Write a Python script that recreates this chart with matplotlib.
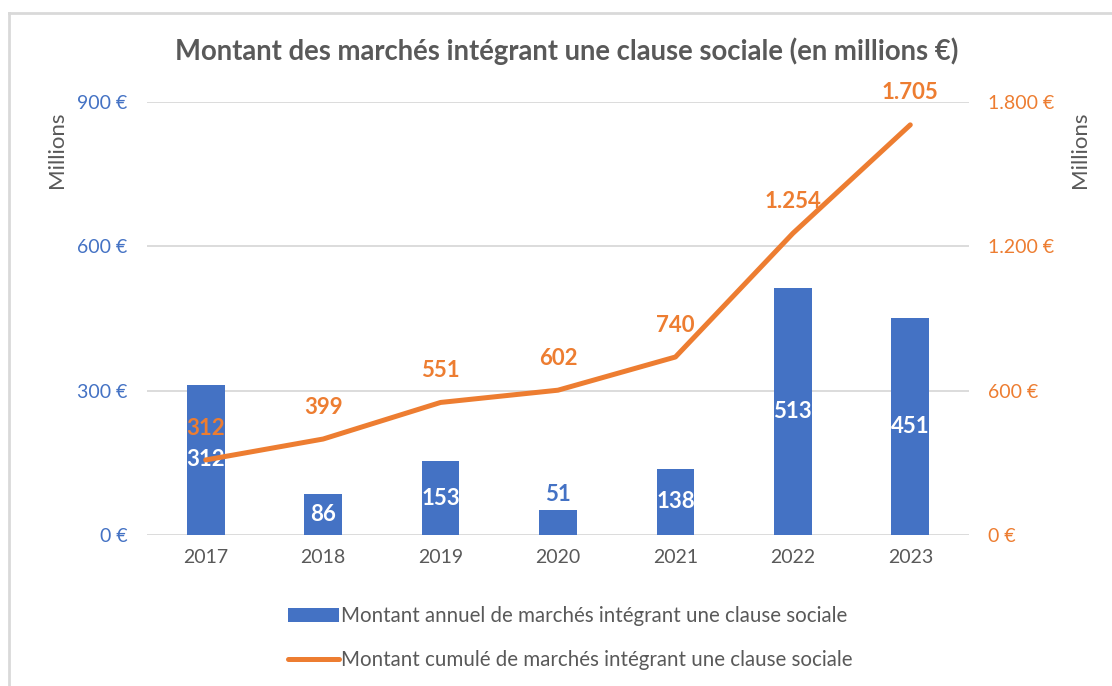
import numpy as np
import matplotlib.pyplot as plt
from matplotlib.lines import Line2D
from matplotlib.patches import Patch

# donnees
annees = ['2017', '2018', '2019', '2020', '2021', '2022', '2023']
annuel = [312, 86, 153, 51, 138, 513, 451]
cumule = [312, 399, 551, 602, 740, 1254, 1705]
ticks_g = [0, 300, 600, 900]
ticks_d = [0, 600, 1200, 1800]

BLEU = '#4472C4'
ORANGE = '#ED7D31'
GRIS = '#595959'
GRILLE = '#D9D9D9'

plt.rcParams['font.family'] = ['Lato', 'DejaVu Sans']

fig = plt.figure(figsize=(11.12, 6.86), dpi=100)
W, H = 1112, 686
ax = fig.add_axes([147 / W, 1 - 535 / H, 822 / W, 433 / H])
ax2 = ax.twinx()

x = np.arange(len(annees))
ax.bar(x, annuel, width=0.32, color=BLEU, zorder=2)
ax2.plot(x, cumule, color=ORANGE, lw=3.6, solid_capstyle='round', zorder=3)

ax.set_xlim(-0.5, len(annees) - 0.5)
ax.set_ylim(0, 900)
ax2.set_ylim(0, 1800)
ax.set_yticks(ticks_g)
ax.set_yticklabels([f'{v:,}'.replace(',', '.') + ' €' for v in ticks_g])
ax2.set_yticks(ticks_d)
ax2.set_yticklabels([f'{v:,}'.replace(',', '.') + ' €' for v in ticks_d])
ax.set_xticks(x)
ax.set_xticklabels(annees)

ax.grid(axis='y', color=GRILLE, lw=1.3, zorder=0)
for a in (ax, ax2):
    for s in a.spines.values():
        s.set_visible(False)
ax.set_zorder(1)
ax2.set_zorder(2)
ax.patch.set_visible(False)

ax.tick_params(axis='y', length=0, colors=BLEU, labelsize=14, pad=14)
ax2.tick_params(axis='y', length=0, colors=ORANGE, labelsize=14, pad=14)
ax.tick_params(axis='x', length=0, colors=GRIS, labelsize=14, pad=10)

# etiquettes des barres
for i, v in enumerate(annuel):
    if v < 80:
        ax.text(i, v + 12, str(v), ha='center', va='bottom', color=BLEU,
                fontsize=16, fontweight='bold', zorder=5)
    else:
        ax.text(i, v / 2, str(v), ha='center', va='center', color='white',
                fontsize=16, fontweight='bold', zorder=5)

# etiquettes de la courbe
for i, v in enumerate(cumule):
    ax2.annotate(f'{v:,}'.replace(',', '.'), (i, v), xytext=(0, 23),
                 textcoords='offset points', ha='center', va='center',
                 color=ORANGE, fontsize=16, fontweight='bold')

fig.text(567 / W, 1 - 51 / H, 'Montant des marchés intégrant une clause sociale (en millions €)',
         ha='center', va='center', color=GRIS, fontsize=19.8, fontweight='bold')
fig.text(57 / W, 1 - 150 / H, 'Millions', rotation=90, ha='center', va='center',
         color=GRIS, fontsize=16)
fig.text(1080 / W, 1 - 150 / H, 'Millions', rotation=90, ha='center', va='center',
         color=GRIS, fontsize=16)

poignees = [Patch(facecolor=BLEU),
            Line2D([0], [0], color=ORANGE, lw=3.6, solid_capstyle='round')]
noms = ['Montant annuel de marchés intégrant une clause sociale',
        'Montant cumulé de marchés intégrant une clause sociale']
fig.legend(poignees, noms, loc='center', bbox_to_anchor=(570 / W, 1 - 638 / H),
           frameon=False, fontsize=14.8, labelcolor=GRIS, handlelength=2.5,
           handletextpad=0.1, labelspacing=1.15)

# cadre
fig.add_artist(Line2D([9 / W, 9 / W], [0, 1 - 13 / H], color=GRILLE, lw=2,
                      transform=fig.transFigure))
fig.add_artist(Line2D([9 / W, 1], [1 - 13 / H, 1 - 13 / H], color=GRILLE, lw=2,
                      transform=fig.transFigure))

fig.savefig('out.png', dpi=100)
